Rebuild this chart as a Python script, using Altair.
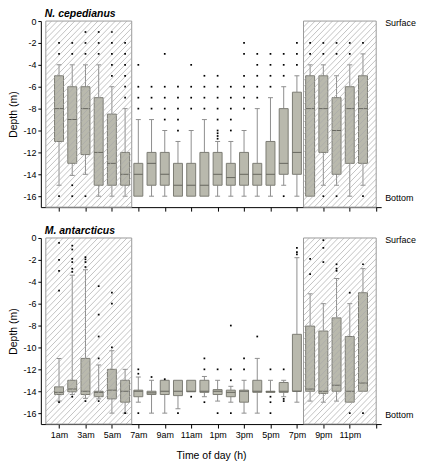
import altair as alt
import pandas as pd

# ---------------- data ----------------
hour_pos = list(range(1, 25))
hour_labels = ["1am", "2am", "3am", "4am", "5am", "6am", "7am", "8am", "9am", "10am", "11am", "12pm",
               "1pm", "2pm", "3pm", "4pm", "5pm", "6pm", "7pm", "8pm", "9pm", "10pm", "11pm", "12am"]
tick_positions = list(range(1, 26, 2))
depth_ticks = [0, -2, -4, -6, -8, -10, -12, -14, -16]

night_start = [0, 19.5]
night_end = [6.5, 25]

# N. cepedianus
nc_whi = [-4, -4, -4, -4, -6, -8, -9, -9, -10, -11, -10, -9,
          -11, -11, -10, -8, -7, -6, -5, -4, -4, -5, -4, -3]
nc_q3 = [-5, -6, -6, -7, -8.5, -12, -13, -12, -12, -13, -13, -12,
         -12, -13, -12, -13, -11, -8, -6.5, -5, -5, -7, -6, -5]
nc_med = [-8, -9, -8, -12, -13, -14, -14, -13, -14, -15, -15, -15,
          -14, -14.3, -14, -14, -14, -13, -12, -8, -8, -10, -8, -8]
nc_q1 = [-11, -13, -12.2, -15, -15, -15, -16, -15, -15, -16, -16, -16,
         -15, -15, -15, -15, -15, -14, -14, -16, -12, -14, -13, -13]
nc_wlo = [-15, -14.1, -14, -16, -16, -16, -16, -16, -16, -16, -16, -16,
          -16, -16, -16, -16, -16, -15, -16, -16, -15, -15, -16, -15]
nc_out = [[-2, -3, -16], [-2, -3, -15, -16], [-1, -2, -3, -16], [-1, -2, -3],
          [-1, -2, -3, -4, -5], [-2, -3, -4, -5, -6, -7], [-4, -6, -7, -8], [-6, -7, -8],
          [-3, -6, -7, -8, -9], [-6, -7, -8, -9, -10], [-4, -6, -7, -8], [-5, -6, -7, -8],
          [-5, -6, -7, -8, -9, -10, -10.25, -10.5, -10.75], [-6, -7, -8, -9, -10],
          [-2, -3, -5, -6, -7, -8], [-3, -4, -5, -6, -7],
          [-3, -4, -5, -6], [-3, -4, -5, -16], [-2, -3, -4], [-2, -3],
          [-2, -3, -16], [-2, -3, -16], [-2, -3], [-2, -16]]

# M. antarcticus
ma_whi = [-11, -3.4, -2.9, -11.6, -10.3, -12, -12.7, -13, -13, -13, -13, -12.65,
          -13, -13.55, -13, -11, -13, -13, -1.8, -5.1, -6, -3.7, -6, -2.8]
ma_q3 = [-13.6, -13, -11, -14, -12, -13, -13.9, -14, -13, -13, -13, -13,
         -13.85, -13.9, -13.9, -13, -14, -13.2, -8.8, -8.05, -8.5, -7.3, -9, -5]
ma_med = [-14.1, -13.8, -14, -14.1, -13.9, -14, -14, -14.15, -14, -14, -14, -14,
          -14, -14.1, -14, -14, -14.05, -14, -14, -13.8, -14, -13.45, -14, -13.25]
ma_q1 = [-14.3, -14.05, -14.3, -14.5, -14.7, -15, -14.5, -14.3, -14.3, -14.4, -14.05, -14.1,
         -14.3, -14.5, -15, -14.1, -14.1, -14.1, -14, -14, -14.2, -14, -15, -14]
ma_wlo = [-14.9, -14.3, -14.65, -14.7, -16, -16, -15, -16, -16, -15.6, -14.05, -14.5,
          -14.9, -15, -16, -16, -14.1, -14.5, -15, -14.9, -15, -14.9, -15, -14]
ma_out = [[-0.45, -2, -3, -4.8, -15], [-0.7, -1.05, -1.9, -2.2, -2.8, -3.1, -14.5],
          [-1.75, -1.95, -2.2, -2.65, -14.9], [-4.4, -7, -9, -11, -14.9],
          [-5, -6, -10], [-16], [-12, -12.4, -16], [-12.7],
          [-12.9], [-16], [-14.5], [-11, -12, -15],
          [-12, -16], [-8, -12, -13, -16], [-11, -12], [-9],
          [-12, -14.5, -15, -16], [-12, -14.7, -14.9], [-0.9, -1.3, -1.5], [-1.9, -3.3],
          [-0.2, -0.9, -2.2], [-2.4, -2.8, -3], [-5, -16], [-2.4, -16]]

# ---------------- style ----------------
FONT = "Liberation Sans"
W, H = 342, 187
Y_MIN, Y_MAX = -17, 0
X_MIN, X_MAX = 0, 25
BOX_FILL = "#b9b9ad"
BOX_STROKE = "#7c7c74"
MED_COLOR = "#66665e"
WHISK = "#8e8e8e"
HATCH = "#a9a9a9"
HATCH_SPACING = 6.0

labels_js = "[" + ",".join("'%s'" % l for l in hour_labels) + "]"


def box_df(whi, q3, med, q1, wlo):
    return pd.DataFrame({"pos": hour_pos, "whi": whi, "q3": q3, "med": med, "q1": q1, "wlo": wlo})


def out_df(outs):
    rows = []
    for p, vals in zip(hour_pos, outs):
        for v in vals:
            rows.append({"pos": p, "val": v})
    return pd.DataFrame(rows)


night_df = pd.DataFrame({"x0": night_start, "x1": night_end, "top": Y_MAX, "bot": Y_MIN})


def hatch_df():
    sx = W / (X_MAX - X_MIN)
    sy = H / (Y_MAX - Y_MIN)
    rows = []
    for a, b in zip(night_start, night_end):
        xa, xb = a * sx, b * sx
        c = xa - H
        while c < xb:
            s = max(xa, c)
            e = min(xb, c + H)
            if e > s:
                rows.append({"hx": s / sx, "hy": (s - c) / sy + Y_MIN,
                             "hx2": e / sx, "hy2": (e - c) / sy + Y_MIN})
            c += HATCH_SPACING
    return pd.DataFrame(rows)


hatch = hatch_df()


def panel(title, box, outs, show_labels):
    x_scale = alt.Scale(domain=[X_MIN, X_MAX], nice=False, zero=False)
    y_scale = alt.Scale(domain=[Y_MIN, Y_MAX], nice=False, zero=False)
    x_axis = alt.Axis(values=tick_positions, labels=show_labels,
                      labelExpr="datum.value <= 24 ? %s[datum.value - 1] : ''" % labels_js,
                      labelOverlap=False, labelFlush=False, tickSize=4, labelPadding=2,
                      title="Time of day (h)" if show_labels else None, titlePadding=12)
    y_axis = alt.Axis(values=depth_ticks, labelExpr="'' + datum.value", tickSize=3,
                      labelPadding=2, title="Depth (m)", titlePadding=4)

    X = lambda f: alt.X(f, type="quantitative", scale=x_scale, axis=x_axis)
    Y = lambda f: alt.Y(f, type="quantitative", scale=y_scale, axis=y_axis)

    bg = alt.Chart(night_df).mark_rect(fill="white", stroke="#9a9a9a", strokeWidth=1).encode(
        x=X("x0"), x2="x1", y=Y("top"), y2="bot")

    bd = alt.Chart(box)
    up = bd.transform_filter("datum.whi > datum.q3").mark_rule(color=WHISK, strokeWidth=1).encode(
        x=X("pos"), y=Y("whi"), y2="q3")
    lo = bd.transform_filter("datum.wlo < datum.q1").mark_rule(color=WHISK, strokeWidth=1).encode(
        x=X("pos"), y=Y("wlo"), y2="q1")
    capu = bd.transform_filter("datum.whi > datum.q3").mark_tick(
        orient="horizontal", size=5, thickness=1, color=WHISK, opacity=1).encode(x=X("pos"), y=Y("whi"))
    capl = bd.transform_filter("datum.wlo < datum.q1").mark_tick(
        orient="horizontal", size=5, thickness=1, color=WHISK, opacity=1).encode(x=X("pos"), y=Y("wlo"))
    boxes = bd.mark_bar(size=9, fill=BOX_FILL, stroke=BOX_STROKE, strokeWidth=1).encode(
        x=X("pos"), y=Y("q3"), y2="q1")
    med = bd.mark_tick(orient="horizontal", size=9, thickness=1, color=MED_COLOR, opacity=1).encode(
        x=X("pos"), y=Y("med"))

    hl = alt.Chart(hatch).mark_rule(color=HATCH, strokeWidth=0.7).encode(
        x=X("hx"), y=Y("hy"), x2="hx2", y2="hy2")

    pts = alt.Chart(outs).mark_square(size=3, color="black", opacity=1).encode(x=X("pos"), y=Y("val"))

    side = pd.DataFrame({"sx": [X_MAX, X_MAX], "sy": [Y_MAX, -16], "txt": ["Surface", "Bottom"]})
    side_t = alt.Chart(side).mark_text(align="left", baseline="middle", dx=9, dy=2, fontSize=9,
                                       font=FONT, color="black").encode(
        x=X("sx"), y=Y("sy"), text="txt:N")

    ttl = pd.DataFrame({"tx": [X_MIN], "ty": [Y_MAX], "txt": [title]})
    title_t = alt.Chart(ttl).mark_text(align="left", baseline="alphabetic", dx=-1, dy=-4, fontSize=10.5,
                                       font=FONT, fontStyle="italic", fontWeight="bold",
                                       color="black").encode(
        x=X("tx"), y=Y("ty"), text="txt:N")

    return alt.layer(bg, up, lo, capu, capl, boxes, med, hl, pts, side_t, title_t).properties(
        width=W, height=H)


top = panel("N. cepedianus",
            box_df(nc_whi, nc_q3, nc_med, nc_q1, nc_wlo), out_df(nc_out), False)
bottom = panel("M. antarcticus",
               box_df(ma_whi, ma_q3, ma_med, ma_q1, ma_wlo), out_df(ma_out), True)

chart = alt.vconcat(top, bottom, spacing=14).properties(padding=0).configure_view(stroke=None).configure_axis(
    grid=False, labelFont=FONT, titleFont=FONT, labelFontSize=9, titleFontSize=10.5,
    titleFontWeight="normal", labelColor="black", titleColor="black",
    domainColor="black", tickColor="black", domainWidth=1, tickWidth=1)

chart.save("out.html", embed_options={"renderer": "svg", "actions": False})
